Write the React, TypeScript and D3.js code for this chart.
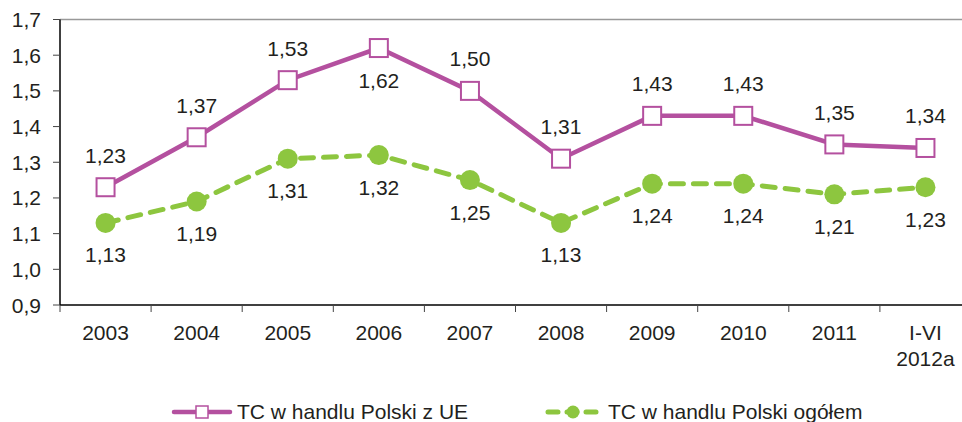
import React from "react";
import * as d3 from "d3";

const categories = ["2003", "2004", "2005", "2006", "2007", "2008", "2009", "2010", "2011", "I-VI\n2012a"];
const seriesUE = [1.23, 1.37, 1.53, 1.62, 1.5, 1.31, 1.43, 1.43, 1.35, 1.34];
const seriesTotal = [1.13, 1.19, 1.31, 1.32, 1.25, 1.13, 1.24, 1.24, 1.21, 1.23];
const yTicks = [0.9, 1.0, 1.1, 1.2, 1.3, 1.4, 1.5, 1.6, 1.7];
const ueLabelBelow = [false, false, false, true, false, false, false, false, false, false];
const legendNames = ["TC w handlu Polski z UE", "TC w handlu Polski ogółem"];

const PURPLE = "#B4509F";
const GREEN = "#8DC63F";
const TEXT = "#231F20";
const FONT = "'Liberation Sans', Arial, sans-serif";
const fmt = (v: number, d: number) => v.toFixed(d).replace(".", ",");

export default function App() {
  const W = 962, H = 422;
  const left = 60, right = 971, top = 19.5, bottom = 305;
  const x = d3.scaleBand<string>().domain(categories).range([left, right]);
  const y = d3.scaleLinear().domain([0.9, 1.7]).range([bottom, top]);
  const cx = (i: number) => (x(categories[i]) as number) + x.bandwidth() / 2;
  const line = d3.line<number>().x((_, i) => cx(i)).y((v) => y(v));
  const edges = categories.map((c) => x(c) as number).concat([right]);

  return (
    <svg width={W} height={H} style={{ position: "absolute", left: 0, top: 0, overflow: "hidden" }} fontFamily={FONT}>
      <rect width={W} height={H} fill="#fff" />
      {/* top border */}
      <line x1={left} x2={right} y1={y(1.7)} y2={y(1.7)} stroke="#999" strokeWidth={1.5} />
      {/* y axis */}
      <line x1={left} x2={left} y1={top} y2={bottom} stroke="#000" strokeWidth={1.5} />
      {yTicks.map((t) => (
        <g key={t}>
          <line x1={left - 7} x2={left} y1={y(t)} y2={y(t)} stroke="#444" strokeWidth={1} />
          <text x={41} y={y(t) + 7.5} textAnchor="end" fontSize={21} fill={TEXT}>{fmt(t, 1)}</text>
        </g>
      ))}
      {/* x axis */}
      <line x1={left} x2={right} y1={bottom} y2={bottom} stroke="#000" strokeWidth={1.5} />
      {edges.map((e, i) => (
        <line key={i} x1={e} x2={e} y1={bottom} y2={bottom + 7} stroke="#444" strokeWidth={1} />
      ))}
      {categories.map((c, i) => (
        <text key={c} x={cx(i)} y={340} textAnchor="middle" fontSize={21} fill={TEXT}>
          {c.split("\n").map((p, j) => (
            <tspan key={j} x={cx(i)} dy={j === 0 ? 0 : 26}>{p}</tspan>
          ))}
        </text>
      ))}
      {/* green dashed series */}
      <path d={line(seriesTotal) as string} fill="none" stroke={GREEN} strokeWidth={5} strokeDasharray="13 10" strokeLinecap="round" />
      {seriesTotal.map((v, i) => (
        <circle key={i} cx={cx(i)} cy={y(v)} r={10} fill={GREEN} />
      ))}
      {seriesTotal.map((v, i) => (
        <text key={i} x={cx(i)} y={y(v) + 32 + 7.5} textAnchor="middle" fontSize={21} fill={TEXT}>{fmt(v, 2)}</text>
      ))}
      {/* purple series */}
      <path d={line(seriesUE) as string} fill="none" stroke={PURPLE} strokeWidth={4.5} />
      {seriesUE.map((v, i) => (
        <rect key={i} x={cx(i) - 9} y={y(v) - 9} width={18} height={18} fill="#fff" stroke={PURPLE} strokeWidth={2} />
      ))}
      {seriesUE.map((v, i) => (
        <text key={i} x={cx(i)} y={y(v) + (ueLabelBelow[i] ? 32 : -32) + 7.5} textAnchor="middle" fontSize={21} fill={TEXT}>{fmt(v, 2)}</text>
      ))}
      {/* legend */}
      <g>
        <line x1={174} x2={230} y1={412} y2={412} stroke={PURPLE} strokeWidth={4.5} strokeLinecap="round" />
        <rect x={196} y={406} width={12} height={12} fill="#fff" stroke={PURPLE} strokeWidth={1.5} />
        <text x={237} y={419} fontSize={21} fill={TEXT}>{legendNames[0]}</text>
        <line x1={548} x2={604} y1={412} y2={412} stroke={GREEN} strokeWidth={5} strokeDasharray="10 9" strokeLinecap="round" />
        <circle cx={573} cy={412} r={6.5} fill={GREEN} />
        <text x={608} y={419} fontSize={21} fill={TEXT}>{legendNames[1]}</text>
      </g>
    </svg>
  );
}
